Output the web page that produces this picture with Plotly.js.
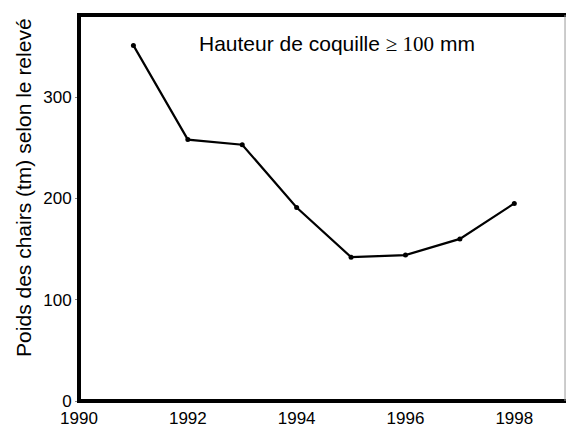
<!DOCTYPE html>
<html>
<head>
<meta charset="utf-8">
<script src="https://cdn.plot.ly/plotly-3.0.1.min.js"></script>
<style>body{margin:0;padding:0;background:#fff}#chart{width:566px;height:427px}</style>
</head>
<body>
<div id="chart"></div>
<script>
const years = [1991, 1992, 1993, 1994, 1995, 1996, 1997, 1998];
const meatWeight = [351, 258, 253, 191, 142, 144, 160, 195];
const xTicks = [1990, 1992, 1994, 1996, 1998];
const yTicks = [0, 100, 200, 300];
const yTitle = "Poids des chairs (tm) selon le relevé";
const note = 'Hauteur de coquille <span style="font-family:\'Liberation Serif\', serif">≥ 100</span> mm';

const fontBase = {family: "Liberation Sans, Arial, sans-serif", color: "#000"};

const trace = {
  x: years, y: meatWeight, type: "scatter", mode: "lines+markers",
  line: {color: "#000", width: 2.2},
  marker: {color: "#000", size: 5},
  cliponaxis: false
};

const layout = {
  width: 566, height: 427,
  margin: {l: 79, r: 0, t: 15, b: 26, pad: 0},
  paper_bgcolor: "#fff", plot_bgcolor: "#fff",
  showlegend: false,
  xaxis: {
    range: [1990, 1998.95], tickvals: xTicks, ticktext: xTicks.map(String),
    showgrid: false, zeroline: false, showline: false,
    ticks: "", ticklabelstandoff: 5,
    tickfont: Object.assign({size: 17}, fontBase)
  },
  yaxis: {
    range: [0, 381], tickvals: yTicks, ticktext: yTicks.map(String),
    showgrid: false, zeroline: false, showline: false,
    ticks: "outside", ticklen: 3, tickcolor: "#888", tickwidth: 1,
    tickfont: Object.assign({size: 17}, fontBase)
  },
  shapes: [
    {type: "line", xref: "paper", yref: "paper", x0: 0, x1: 0, y0: -0.005, y1: 1.005, line: {color: "#000", width: 4}},
    {type: "line", xref: "paper", yref: "paper", x0: -0.004, x1: 1, y0: 0, y1: 0, line: {color: "#000", width: 4}},
    {type: "line", xref: "paper", yref: "paper", x0: -0.004, x1: 1, y0: 1, y1: 1, line: {color: "#000", width: 4}},
    {type: "line", xref: "paper", yref: "paper", x0: 0.998, x1: 0.998, y0: 0, y1: 1, line: {color: "#999", width: 1}}
  ],
  annotations: [
    {text: note, xref: "paper", yref: "paper", x: 0.529, y: 0.925, xanchor: "center", yanchor: "middle",
     showarrow: false, font: Object.assign({size: 21}, fontBase)},
    {text: yTitle, xref: "paper", yref: "paper", x: -0.113, y: 0.552, xanchor: "center", yanchor: "middle",
     textangle: -90, showarrow: false, font: Object.assign({size: 21}, fontBase)}
  ]
};

Plotly.newPlot("chart", [trace], layout, {displayModeBar: false, staticPlot: true});
</script>
</body>
</html>
